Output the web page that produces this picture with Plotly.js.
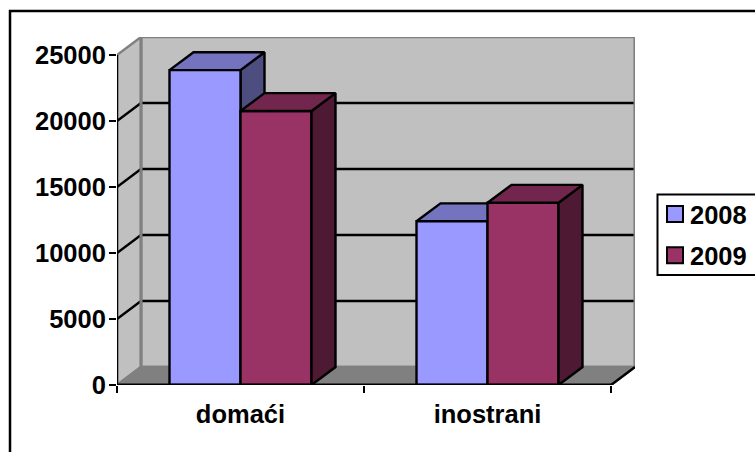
<!DOCTYPE html>
<html><head><meta charset="utf-8">
<script src="https://cdn.plot.ly/plotly-3.0.1.min.js"></script>
<style>html,body{margin:0;padding:0;background:#fff;overflow:hidden}</style></head>
<body><div id="chart" style="width:755px;height:452px"></div>
<script>
const categories = ['domaći', 'inostrani'];
const positions = [0, 1];
const years = ['2008', '2009'];
const values2008 = [23850, 12400];
const values2009 = [20750, 13800];
const yTicks = [0, 5000, 10000, 15000, 20000, 25000];

const colors2008 = {front:'#9999FF', top:'#7373BF', side:'#4D4D80'};
const colors2009 = {front:'#993366', top:'#73264D', side:'#4D1933'};

const W = 755, H = 452, L = 117, R = 635, T = 37, B = 385;
const catPx = 247, dx = 24 / catPx;
const unitPx = 13.24 / 1000, dy = 18 / unitPx;
const barW = 71 / catPx;
const xMin = -0.5, xMax = 1.5, yMax = yTicks[yTicks.length - 1];
const font = 'Liberation Sans, Arial, sans-serif';
const fontSize = 25.5;
const stroke = 2.4;
const px = v => (v - L) / (R - L), py = v => (B - v) / (B - T);

function poly(xs, ys, fill, z, line) {
  return {type:'scatter', mode:'lines', x:xs, y:ys, fill:'toself', fillcolor:fill,
    line:{color:line || '#000', width:stroke}, showlegend:false, hoverinfo:'skip', cliponaxis:false, zorder:z};
}
function seg(xs, ys, color, width, z) {
  return {type:'scatter', mode:'lines', x:xs, y:ys, line:{color, width}, showlegend:false,
    hoverinfo:'skip', cliponaxis:false, zorder:z};
}
function faces(values, shift, c, z) {
  const out = [];
  positions.forEach((p, i) => {
    const x0 = p + shift * barW, x1 = x0 + barW, v = values[i];
    out.push(poly([x1, x1+dx, x1+dx, x1, x1], [0, dy, v+dy, v, 0], c.side, z));
    out.push(poly([x0, x1, x1+dx, x0+dx, x0], [v, v, v+dy, v+dy, v], c.top, z));
  });
  return out;
}
function barTrace(name, values, c) {
  return {type:'bar', name, x:positions, y:values, marker:{color:c.front, line:{color:'#000', width:stroke}},
    showlegend:false, hoverinfo:'skip', cliponaxis:false, zorder:2};
}
function legendTrace(name, c) {
  return {type:'scatter', mode:'markers', name, x:[null], y:[null], legendgroup:name,
    marker:{symbol:'square', size:16, color:c.front, line:{color:'#000', width:2}}, hoverinfo:'skip', zorder:0};
}

const gridX = [], gridY = [], sideX = [], sideY = [];
yTicks.slice(1, -1).forEach(v => {
  gridX.push(xMin+dx, xMax+dx, null); gridY.push(v+dy, v+dy, null);
  sideX.push(xMin, xMin+dx, null); sideY.push(v, v+dy, null);
});

const traces = [
  poly([xMin+dx, xMax+dx, xMax+dx, xMin+dx, xMin+dx], [dy, dy, yMax+dy, yMax+dy, dy], '#C0C0C0', 0, '#808080'),
  poly([xMin, xMin+dx, xMin+dx, xMin, xMin], [0, dy, yMax+dy, yMax, 0], '#C0C0C0', 0, '#808080'),
  poly([xMin, xMax, xMax+dx, xMin+dx, xMin], [0, 0, dy, dy, 0], '#808080', 0, '#808080'),
  seg(gridX, gridY, '#000', stroke, 0),
  seg(sideX, sideY, '#000', stroke, 0),
  seg([xMin+dx, xMin+dx], [dy, yMax+dy], '#808080', 3, 0),
  seg([xMax+dx, xMax+dx], [dy, yMax+dy], '#808080', 3, 0),
  seg([xMax, xMax+dx], [0, dy], '#000', stroke, 0),
  seg([xMin, xMin], [0, yMax], '#000', stroke, 0),
  ...faces(values2008, -1, colors2008, 1),
  barTrace(years[0], values2008, colors2008),
  barTrace(years[1], values2009, colors2009),
  ...faces(values2009, 0, colors2009, 3),
  seg([xMin, xMax], [0, 0], '#000', 3, 4),
  legendTrace(years[0], colors2008),
  legendTrace(years[1], colors2009)
];

const layout = {
  width:W, height:H, autosize:false,
  margin:{l:L, r:W-R, t:T, b:H-B, pad:0},
  paper_bgcolor:'#fff', plot_bgcolor:'rgba(0,0,0,0)',
  showlegend:true, hovermode:false,
  barmode:'group', bargap:1-2*barW, bargroupgap:0,
  font:{family:font, size:fontSize, color:'#000'},
  xaxis:{range:[xMin, xMax+dx], showgrid:false, zeroline:false, showline:false, ticks:'',
    tickmode:'array', tickvals:positions, ticktext:categories,
    tickfont:{family:font, size:fontSize, weight:'bold', color:'#000'}, ticklabelstandoff:11,
    minor:{tickmode:'array', tickvals:[-0.5, 0.5, 1.5], ticks:'outside', ticklen:7, tickwidth:2, tickcolor:'#000', showgrid:false}},
  yaxis:{range:[0, yMax+dy], showgrid:false, zeroline:false, showline:false, ticks:'outside', ticklen:7, tickwidth:2, tickcolor:'#000',
    tickmode:'array', tickvals:yTicks, ticktext:yTicks.map(String), ticklabelstandoff:-2,
    tickfont:{family:font, size:fontSize, weight:'bold', color:'#000'}},
  legend:{xref:'container', yref:'container', x:650/W, xanchor:'left', y:1-191/H, yanchor:'top', borderwidth:0, bgcolor:'rgba(0,0,0,0)',
    traceorder:'grouped', tracegroupgap:5, font:{family:font, size:fontSize, weight:'bold', color:'#000'}},
  shapes:[
    {type:'path', xref:'paper', yref:'paper', layer:'above', line:{color:'#000', width:2.5},
      path:`M ${px(W+10)} ${py(11)} L ${px(10)} ${py(11)} L ${px(10)} ${py(H+10)}`},
    {type:'path', xref:'paper', yref:'paper', layer:'above', line:{color:'#000', width:2},
      path:`M ${px(W+10)} ${py(194.5)} L ${px(657.5)} ${py(194.5)} L ${px(657.5)} ${py(275)} L ${px(W+10)} ${py(275)}`}
  ]
};
Plotly.newPlot('chart', traces, layout, {displayModeBar:false, staticPlot:true}).then(gd => {
  gd.querySelectorAll('.legendsymbols').forEach(el => el.setAttribute('transform', 'translate(5,0)'));
});
</script></body></html>
